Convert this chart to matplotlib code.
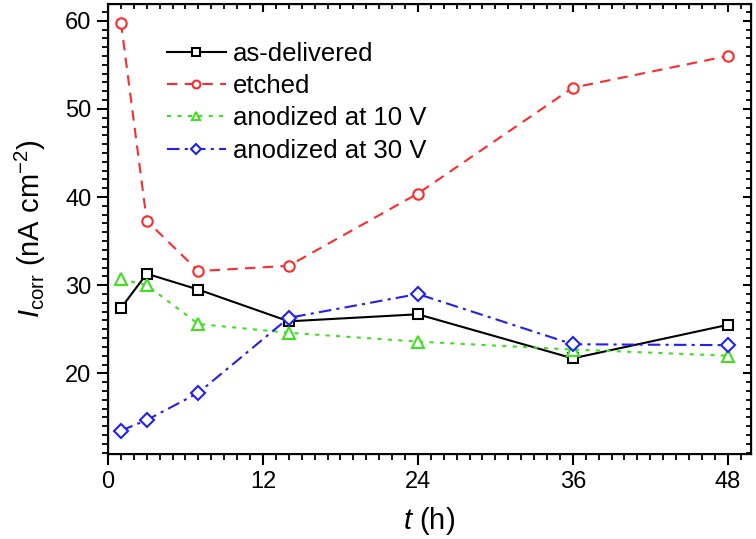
import numpy as np
import matplotlib
matplotlib.use("Agg")
import matplotlib.pyplot as plt
from matplotlib.ticker import MultipleLocator

plt.rcParams['font.family'] = ['Liberation Sans', 'DejaVu Sans']
plt.rcParams['mathtext.fontset'] = 'custom'
plt.rcParams['mathtext.rm'] = 'Liberation Sans'
plt.rcParams['mathtext.it'] = 'Liberation Sans:italic'

# time points (h)
t = [1, 3, 7, 14, 24, 36, 48]

# corrosion current density (nA cm^-2)
as_delivered = [27.4, 31.3, 29.5, 25.9, 26.7, 21.7, 25.5]
etched = [59.8, 37.3, 31.6, 32.2, 40.4, 52.4, 56.0]
anod_10v = [30.7, 30.0, 25.6, 24.6, 23.6, 22.7, 22.0]
anod_30v = [13.5, 14.7, 17.8, 26.3, 29.0, 23.3, 23.2]

labels = ["as-delivered", "etched", "anodized at 10 V", "anodized at 30 V"]

fig = plt.figure(figsize=(7.56, 5.39), dpi=100)
ax = fig.add_axes([0.1429, 0.1577, 0.8505, 0.8349])

ms = 7.5
lw = 1.5
ax.plot(t, as_delivered, color="black", ls="-", lw=lw, marker="s",
        mfc="white", mec="black", ms=ms, mew=1.5, label=labels[0])
ax.plot(t, etched, color="#ff2a2a", ls=(0, (5, 3.5)), lw=lw, marker="o",
        mfc="white", mec="#ff2a2a", ms=ms, mew=1.5, label=labels[1])
ax.plot(t, anod_10v, color="#3fe01f", ls=(0, (2, 3)), lw=lw, marker="^",
        mfc="white", mec="#3fe01f", ms=ms + 1, mew=1.5, label=labels[2])
ax.plot(t, anod_30v, color="#2020f0", ls=(0, (6, 2.5, 1.5, 2.5)), lw=lw, marker="D",
        mfc="white", mec="#2020f0", ms=ms - 0.5, mew=1.5, label=labels[3])

xlim = (0, 49.8)
ylim = (10.85, 61.9)
ax.set_xlim(*xlim)
ax.set_ylim(*ylim)
ax.xaxis.set_major_locator(MultipleLocator(12))
ax.xaxis.set_minor_locator(MultipleLocator(1))
ax.yaxis.set_major_locator(MultipleLocator(10))
ax.yaxis.set_minor_locator(MultipleLocator(1))
ax.tick_params(which="major", direction="out", length=8, width=1.5,
               labelsize=17, pad=4)
ax.tick_params(which="minor", direction="out", length=4, width=1.3)

for s in ax.spines.values():
    s.set_linewidth(1.5)

# inward ticks on top and right
axt = ax.twiny()
axt.set_xlim(*xlim)
axt.xaxis.set_major_locator(MultipleLocator(12))
axt.xaxis.set_minor_locator(MultipleLocator(1))
axt.tick_params(which="major", direction="in", length=6, width=1.5, labeltop=False)
axt.tick_params(which="minor", direction="in", length=3.5, width=1.3)
axr = ax.twinx()
axr.set_ylim(*ylim)
axr.yaxis.set_major_locator(MultipleLocator(10))
axr.yaxis.set_minor_locator(MultipleLocator(1))
axr.tick_params(which="major", direction="in", length=6, width=1.5, labelright=False)
axr.tick_params(which="minor", direction="in", length=3.5, width=1.3)

ax.set_xlabel(r"$\mathit{t}$ (h)", fontsize=21, labelpad=9)
ax.set_ylabel(r"$\mathit{I}_{\mathrm{corr}}$ (nA cm$^{-2}$)", fontsize=21, labelpad=12)

leg = ax.legend(loc="upper left", bbox_to_anchor=(0.055, 0.968), frameon=False,
                fontsize=18.5, handlelength=2.3, handletextpad=0.3,
                labelspacing=0.33, numpoints=1, markerscale=0.75)

fig.savefig("out.png", dpi=100)
